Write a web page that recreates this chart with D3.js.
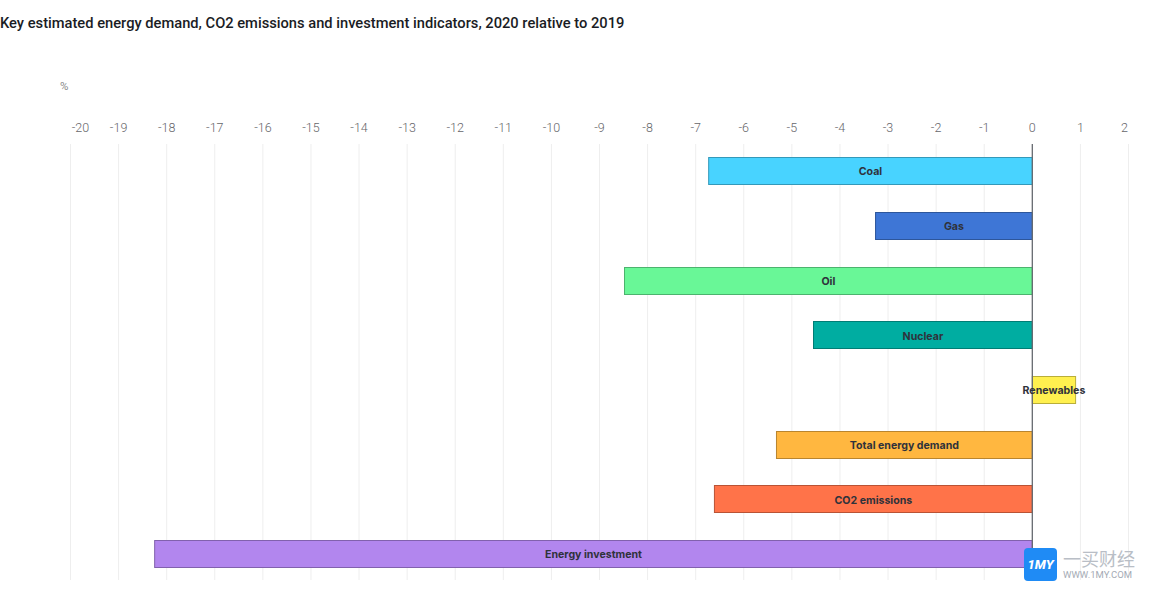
<!DOCTYPE html>
<html>
<head>
<meta charset="utf-8">
<script src="https://cdn.jsdelivr.net/npm/d3@7/dist/d3.min.js"></script>
<style>
  html, body { margin: 0; padding: 0; background: #fff; }
  svg { font-family: Roboto, "Noto Sans", sans-serif; }
</style>
</head>
<body>
<svg id="chart"></svg>
<script>
const categories = ['Coal', 'Gas', 'Oil', 'Nuclear', 'Renewables', 'Total energy demand', 'CO2 emissions', 'Energy investment']
const values = [-6.73, -3.26, -8.48, -4.55, 0.9, -5.32, -6.61, -18.25]
const barColors = ['#48d3ff', '#3e76d6', '#69f797', '#00ada1', '#fff04f', '#ffb740', '#ff7349', '#b286ee']
const tickValues = d3.range(-20, 3)

const width = 1154
const height = 604

const svg = d3.select('#chart')
  .attr('width', width)
  .attr('height', height)
  .style('display', 'block')

svg.append('text')
  .attr('x', 0)
  .attr('y', 28)
  .attr('font-size', 14.7)
  .attr('font-weight', 500)
  .attr('fill', '#1a1c24')
  .text('Key estimated energy demand, CO2 emissions and investment indicators, 2020 relative to 2019')

svg.append('text')
  .attr('x', 60)
  .attr('y', 90)
  .attr('font-size', 11.5)
  .attr('fill', '#8a8a8a')
  .text('%')

const x = d3.scaleLinear().domain([-20, 2]).range([70, 1128])
const y = d3.scaleBand().domain(categories).range([143.5, 581]).paddingInner(0.5).paddingOuter(0.25)

// gridlines and tick labels
const axis = svg.append('g')
  .attr('transform', 'translate(0,144)')
  .call(d3.axisTop(x).tickValues(tickValues).tickFormat(d => d).tickSize(-436).tickPadding(12))

axis.select('.domain').remove()
axis.selectAll('line').attr('stroke', '#eeeeee').attr('stroke-width', 1)
axis.selectAll('text')
  .attr('font-size', 12.5)
  .attr('font-family', 'Roboto, "Noto Sans", sans-serif')
  .attr('font-weight', 300)
  .attr('fill', '#66666a')
  .attr('dx', d => d === -20 ? 10 : d === 2 ? -4 : 0)

// bars
svg.append('g')
  .selectAll('rect')
  .data(categories)
  .join('rect')
  .attr('x', (d, i) => x(Math.min(0, values[i])) + 0.5)
  .attr('y', d => Math.round(y(d)) + 0.5)
  .attr('width', (d, i) => Math.abs(x(values[i]) - x(0)))
  .attr('height', Math.round(y.bandwidth()))
  .attr('fill', (d, i) => barColors[i])
  .attr('stroke', (d, i) => d3.color(barColors[i]).darker(0.9))
  .attr('stroke-width', 1)

// zero line
svg.append('line')
  .attr('x1', x(0) + 0.5)
  .attr('x2', x(0) + 0.5)
  .attr('y1', 144)
  .attr('y2', 580)
  .attr('stroke', '#666a70')
  .attr('stroke-width', 1.3)

// bar labels
svg.append('g')
  .selectAll('text')
  .data(categories)
  .join('text')
  .attr('x', (d, i) => (x(Math.min(0, values[i])) + x(Math.max(0, values[i]))) / 2 + 0.5)
  .attr('y', d => y(d) + y.bandwidth() / 2 + 4.6)
  .attr('text-anchor', 'middle')
  .attr('font-size', 10.6)
  .attr('font-family', 'Inter, sans-serif')
  .attr('font-weight', 700)
  .attr('fill', '#2f323b')
  .text(d => d)

// watermark
const mark = svg.append('g')
mark.append('rect')
  .attr('x', 1024).attr('y', 548)
  .attr('width', 33).attr('height', 33)
  .attr('rx', 4)
  .attr('fill', '#1f8bf5')
mark.append('text')
  .attr('x', 1040.5).attr('y', 569)
  .attr('text-anchor', 'middle')
  .attr('font-size', 13)
  .attr('font-weight', 800)
  .attr('font-style', 'italic')
  .attr('fill', '#fff')
  .text('1MY')
mark.append('text')
  .attr('x', 1063).attr('y', 566)
  .attr('font-size', 18)
  .attr('font-family', '"Noto Sans CJK SC"')
  .attr('fill', '#b9bec6')
  .text('一买财经')
mark.append('text')
  .attr('x', 1063).attr('y', 578)
  .attr('font-size', 9.5)
  .attr('fill', '#a5abb5')
  .text('WWW.1MY.COM')
</script>
</body>
</html>
